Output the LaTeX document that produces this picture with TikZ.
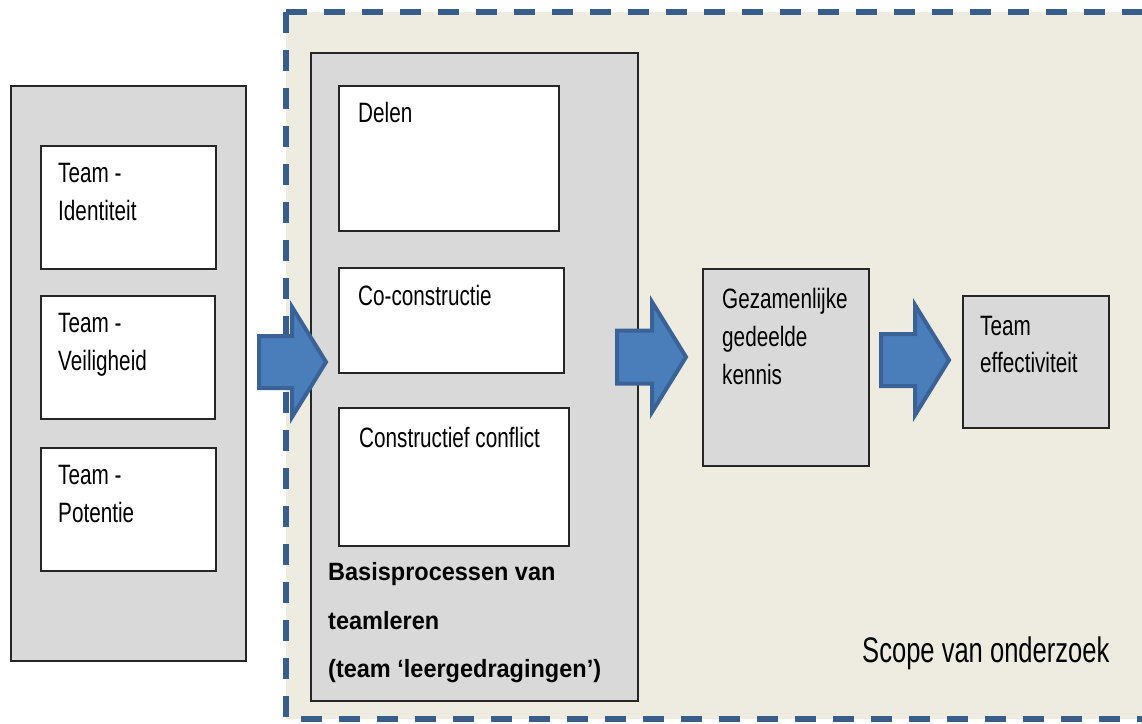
\documentclass[tikz,border=0pt]{standalone}
\usepackage{fontspec}
\setmainfont{Liberation Sans}
\newfontfamily\condfont[FakeStretch=0.74]{Liberation Sans}
\newfontfamily\scopefont[FakeStretch=0.72]{Liberation Sans}
\newfontfamily\boldcond[FakeStretch=0.94]{Liberation Sans}
\definecolor{beige}{HTML}{EEECE1}
\definecolor{greybox}{HTML}{D9D9D9}
\definecolor{dashblue}{HTML}{385D8A}
\definecolor{arrowfill}{HTML}{4A7EBB}
\definecolor{arrowline}{HTML}{3B6296}
\begin{document}
\begin{tikzpicture}[x=1pt,y=-1pt,
  box/.style={draw=black!85, line width=1.5pt, anchor=north west, inner sep=0pt},
  greyb/.style={box, fill=greybox},
  whiteb/.style={box, fill=white},
  txt/.style={anchor=base west, inner sep=0pt, text=black, font=\condfont\fontsize{28}{34}\selectfont},
  btxt/.style={anchor=base west, inner sep=0pt, text=black, font=\boldcond\bfseries\fontsize{25}{30}\selectfont},
  stxt/.style={anchor=base west, inner sep=0pt, text=black, font=\scopefont\fontsize{35.5}{42}\selectfont},
  blockarrow/.style={fill=arrowfill, draw=arrowline, line width=4pt, line join=miter},
  scopeline/.style={draw=dashblue, line width=6pt, dash pattern=on 21pt off 17pt}
]
\useasboundingbox (0,0) rectangle (1142,723);

% scope region
\fill[beige] (286,12) rectangle (1142,719);
\draw[scopeline] (286,12) -- (1150,12);
\draw[scopeline] (286,12) -- (286,719) -- (1150,719);

% left block
\node[greyb, minimum width=235pt, minimum height=575pt] (left) at (10,85) {};
\node[whiteb, minimum width=175pt, minimum height=123pt] (id) at (40,145) {};
\node[whiteb, minimum width=174pt, minimum height=123pt] (veil) at (40,295) {};
\node[whiteb, minimum width=175pt, minimum height=123pt] (pot) at (40,447) {};

% middle block
\node[greyb, minimum width=327pt, minimum height=648pt] (mid) at (310,52) {};
\node[whiteb, minimum width=220pt, minimum height=145pt] (delen) at (338,85) {};
\node[whiteb, minimum width=225pt, minimum height=105pt] (cocon) at (338,267) {};
\node[whiteb, minimum width=230pt, minimum height=138pt] (conf) at (338,407) {};

% right blocks
\node[greyb, minimum width=166pt, minimum height=197pt] (gez) at (702,268) {};
\node[greyb, minimum width=146pt, minimum height=132pt] (eff) at (962,295) {};

% texts
\node[txt] (t1a) at (58,182) {Team -};
\node[txt] (t1b) at (58,220) {Identiteit};
\node[txt] (t2a) at (58,332) {Team -};
\node[txt] (t2b) at (58,370) {Veiligheid};
\node[txt] (t3a) at (58,484) {Team -};
\node[txt] (t3b) at (58,522) {Potentie};
\node[txt] (tdel) at (358,122) {Delen};
\node[txt] (tco) at (358,305) {Co-constructie};
\node[txt] (tcf) at (359,447) {Constructief conflict};
\node[txt] (tg1) at (722,308) {Gezamenlijke};
\node[txt] (tg2) at (722,346) {gedeelde};
\node[txt] (tg3) at (722,384) {kennis};
\node[txt] (te1) at (980,335) {Team};
\node[txt] (te2) at (980,372) {effectiviteit};
\node[btxt] (b1) at (328,580) {Basisprocessen van};
\node[btxt] (b2) at (328,629) {teamleren};
\node[btxt] (b3) at (328,677) {(team ‘leergedragingen’)};
\node[stxt] (scope) at (862,662) {Scope van onderzoek};

% block arrows
\draw[blockarrow] (259,336) -- (292,336) -- (292,307) -- (326,362) -- (292,417) -- (292,388) -- (259,388) -- cycle;
\draw[blockarrow] (617,330.5) -- (652,330.5) -- (652,302) -- (686,357) -- (652,412) -- (652,383.5) -- (617,383.5) -- cycle;
\draw[blockarrow] (881,334) -- (915,334) -- (915,305) -- (949,360) -- (915,415) -- (915,386) -- (881,386) -- cycle;
\end{tikzpicture}
\end{document}
